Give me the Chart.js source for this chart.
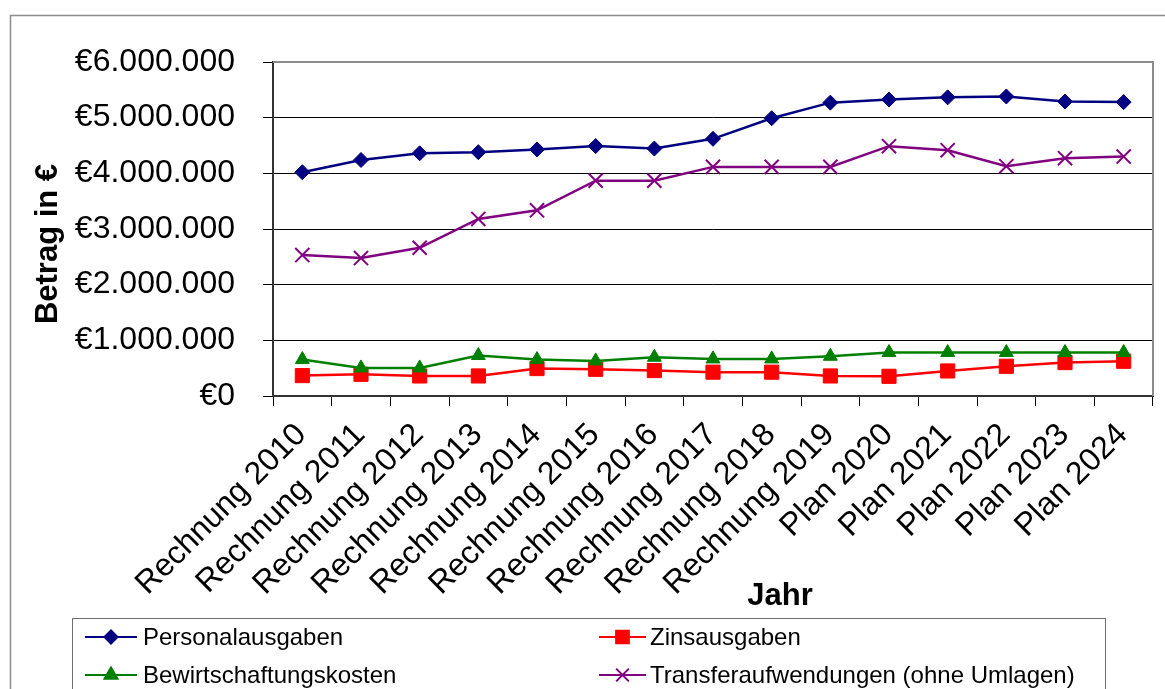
<!DOCTYPE html>
<html>
<head>
<meta charset="utf-8">
<script src="https://cdn.jsdelivr.net/npm/chart.js@4/dist/chart.umd.min.js"></script>
<style>
  html, body { margin: 0; padding: 0; background: #fff; }
  #wrap { width: 1165px; height: 689px; position: relative; overflow: hidden; }
</style>
</head>
<body>
<div id="wrap"><canvas id="c" width="1165" height="689"></canvas></div>
<script>
// Haushaltsdaten in Euro
const jahre = ['Rechnung 2010', 'Rechnung 2011', 'Rechnung 2012', 'Rechnung 2013', 'Rechnung 2014',
  'Rechnung 2015', 'Rechnung 2016', 'Rechnung 2017', 'Rechnung 2018', 'Rechnung 2019',
  'Plan 2020', 'Plan 2021', 'Plan 2022', 'Plan 2023', 'Plan 2024'];
const personalausgaben = [4020000, 4240000, 4360000, 4380000, 4430000, 4490000, 4445000, 4620000,
  4990000, 5270000, 5325000, 5365000, 5380000, 5290000, 5280000];
const zinsausgaben = [367000, 390000, 360000, 360000, 493000, 480000, 457000, 428000,
  428000, 360000, 354000, 450000, 534000, 600000, 624000];
const bewirtschaftungskosten = [655000, 504000, 504000, 727000, 655000, 630000, 696000, 666000,
  666000, 714000, 781000, 781000, 781000, 781000, 781000];
const transferaufwendungen = [2532000, 2478000, 2663000, 3180000, 3336000, 3869000, 3869000, 4116000,
  4116000, 4116000, 4488000, 4416000, 4128000, 4272000, 4301000];
const yMin = 0;
const yMax = 6000000;
const yStep = 1000000;

const FONT = "'Liberation Sans', Arial, sans-serif";

function euro(v) {
  return '€' + String(Math.round(v)).replace(/\B(?=(\d{3})+(?!\d))/g, '.');
}

// Legend entries: [dataset index, column, row]
const legendLayout = [[0, 0, 0], [1, 1, 0], [2, 0, 1], [3, 1, 1]];

const framePlugin = {
  id: 'frame',
  beforeDraw(chart) {
    const ctx = chart.ctx;
    ctx.save();
    ctx.fillStyle = '#fff';
    ctx.fillRect(0, 0, chart.width, chart.height);
    ctx.strokeStyle = '#8c8c8c';
    ctx.lineWidth = 1.5;
    ctx.strokeRect(10.5, 15.5, 1300, 800);
    ctx.restore();
  },
  afterDatasetsDraw(chart) {
    const ctx = chart.ctx;
    const a = chart.chartArea;
    ctx.save();
    // plot area frame (top and right edge)
    ctx.strokeStyle = '#8c8c8c';
    ctx.lineWidth = 2;
    ctx.beginPath();
    ctx.moveTo(a.left, a.top);
    ctx.lineTo(a.right, a.top);
    ctx.lineTo(a.right, a.bottom);
    ctx.stroke();
    ctx.restore();
  },
  afterDraw(chart) {
    const ctx = chart.ctx;
    ctx.save();
    ctx.fillStyle = '#000';
    // axis titles
    ctx.font = 'bold 31px ' + FONT;
    ctx.textAlign = 'center';
    ctx.textBaseline = 'alphabetic';
    ctx.fillText('Jahr', 780, 605);
    ctx.save();
    ctx.translate(57, 244);
    ctx.rotate(-Math.PI / 2);
    ctx.fillText('Betrag in €', 0, 0);
    ctx.restore();

    // legend box
    ctx.strokeStyle = '#6e6e6e';
    ctx.lineWidth = 1;
    ctx.strokeRect(72.5, 618.5, 1033, 120);

    const colLine = [[85, 137], [599, 646]];
    const colText = [143, 650];
    const rowY = [637, 675];
    ctx.font = '24px ' + FONT;
    ctx.textAlign = 'left';
    legendLayout.forEach(([di, col, row]) => {
      const ds = chart.data.datasets[di];
      const y = rowY[row];
      ctx.strokeStyle = ds.borderColor;
      ctx.lineWidth = 2;
      ctx.beginPath();
      ctx.moveTo(colLine[col][0], y);
      ctx.lineTo(colLine[col][1], y);
      ctx.stroke();
      const cx = (colLine[col][0] + colLine[col][1]) / 2;
      ctx.fillStyle = ds.pointBackgroundColor;
      ctx.strokeStyle = ds.pointBorderColor;
      Chart.helpers.drawPoint(ctx, {
        pointStyle: ds.pointStyle,
        radius: ds.legendRadius,
        rotation: 0,
        borderWidth: ds.pointBorderWidth
      }, cx, y);
      ctx.fillStyle = '#000';
      ctx.fillText(ds.label, colText[col], y + 7.5);
    });
    ctx.restore();
  }
};

const ctx = document.getElementById('c').getContext('2d');
new Chart(ctx, {
  type: 'line',
  data: {
    labels: jahre,
    datasets: [
      {
        label: 'Personalausgaben', data: personalausgaben, order: 0,
        borderColor: '#000080', backgroundColor: '#000080',
        pointBackgroundColor: '#000080', pointBorderColor: '#000080',
        pointStyle: 'rectRot', pointRadius: 7.5, legendRadius: 6.5, pointBorderWidth: 1, borderWidth: 2.5
      },
      {
        label: 'Zinsausgaben', data: zinsausgaben, order: 2,
        borderColor: '#ff0000', backgroundColor: '#ff0000',
        pointBackgroundColor: '#ff0000', pointBorderColor: '#ff0000',
        pointStyle: 'rect', pointRadius: 10, legendRadius: 9, pointBorderWidth: 1, borderWidth: 2.5
      },
      {
        label: 'Bewirtschaftungskosten', data: bewirtschaftungskosten, order: 1,
        borderColor: '#008000', backgroundColor: '#008000',
        pointBackgroundColor: '#008000', pointBorderColor: '#008000',
        pointStyle: 'triangle', pointRadius: 8, legendRadius: 7.5, pointBorderWidth: 1, borderWidth: 2.5
      },
      {
        label: 'Transferaufwendungen (ohne Umlagen)', data: transferaufwendungen, order: 3,
        borderColor: '#800080', backgroundColor: '#800080',
        pointBackgroundColor: '#800080', pointBorderColor: '#800080',
        pointStyle: 'crossRot', pointRadius: 10, legendRadius: 9, pointBorderWidth: 2, borderWidth: 2.5
      }
    ]
  },
  options: {
    responsive: false,
    animation: false,
    devicePixelRatio: 1,
    clip: false,
    layout: { padding: { left: 0, top: 62, right: 12, bottom: 0 } },
    plugins: {
      legend: { display: false },
      tooltip: { enabled: false },
      title: { display: false }
    },
    elements: { line: { tension: 0 } },
    scales: {
      x: {
        type: 'category',
        offset: true,
        grid: {
          offset: true, drawOnChartArea: false, drawTicks: true,
          tickLength: 10, color: '#000', lineWidth: 1
        },
        border: { display: true, color: '#333', width: 2 },
        ticks: {
          autoSkip: false, minRotation: 45, maxRotation: 45,
          padding: 10, labelOffset: -1,
          color: '#000', font: { family: FONT, size: 32 }
        },
        afterFit(scale) { scale.height = 293; }
      },
      y: {
        min: yMin, max: yMax,
        grid: {
          color: (c) => (c.tick && c.tick.value === yMax ? 'rgba(0,0,0,0)' : '#000'),
          tickColor: '#000', lineWidth: 1, tickLength: 10, drawTicks: true
        },
        border: { display: true, color: '#333', width: 2 },
        ticks: {
          stepSize: yStep, padding: 28, color: '#000',
          font: { family: FONT, size: 32 },
          callback: (v) => euro(v)
        },
        afterFit(scale) { scale.width = 273; }
      }
    }
  },
  plugins: [framePlugin]
});
</script>
</body>
</html>
